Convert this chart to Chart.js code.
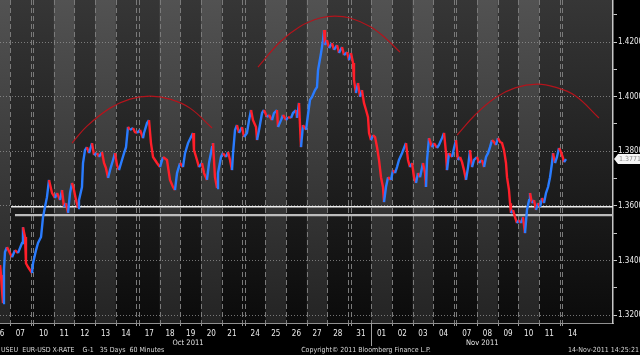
<!DOCTYPE html>
<html><head><meta charset="utf-8">
<script src="https://cdn.jsdelivr.net/npm/chart.js@4.4.0/dist/chart.umd.min.js"></script>
<style>html,body{margin:0;padding:0;background:#000;}canvas{display:block}</style>
</head><body>
<canvas id="c" width="640" height="355"></canvas>
<script>
// ---- data (x = trading hours since 07 Oct 2011 00:00, y = EUR-USD) ----
const hours = [
 -11.5,-10.4,-9.3,-8.1,-7.0,-5.8,-3.5,2.4,5.8,9.3,
 14.0,15.1,17.5,18.6,21.0,25.6,26.8,30.3,32.6,36.1,
 38.4,40.7,43.0,45.4,48.9,52.3,54.7,58.2,60.5,62.8,
 65.1,67.5,69.8,72.1,74.4,76.8,79.1,80.2,83.7,84.9,
 87.2,89.5,91.9,95.4,97.7,101.2,103.5,107.0,109.3,111.6,
 114.0,116.3,119.8,122.1,124.4,126.7,130.2,132.6,134.9,137.2,
 139.5,143.0,145.3,147.7,151.2,154.6,155.8,159.3,161.6,163.9,
 166.3,170.9,174.4,177.9,182.5,186.0,189.5,191.8,194.2,197.7,
 201.1,203.5,207.0,210.4,212.8,213.9,217.4,219.7,223.2,225.6,
 229.0,231.4,234.9,236.0,238.3,240.7,241.8,245.3,247.6,251.1,
 253.5,255.8,258.1,259.3,261.6,263.9,266.2,269.7,272.1,275.5,
 277.9,280.2,282.5,286.0,287.2,289.5,293.0,295.3,298.8,301.1,
 304.6,306.9,310.4,311.6,315.1,317.4,320.9,323.2,326.7,329.0,
 332.5,333.7,336.0,338.3,340.6,344.2,346.4,348.8,351.1,354.6,
 356.9,358.1,361.6,363.9,365.1,366.2,368.5,370.9,374.3,376.7,
 380.2,382.5,386.0,388.3,391.8,394.1,396.4,398.8,399.9,402.2,
 404.6,406.9,409.2,411.5,413.9,416.2,417.4,419.7,422.0,424.4,
 426.7,429.0,431.3,433.6,434.8,437.1,439.5,442.9,445.3,447.6,
 449.9,452.2,455.7,458.1,460.4,462.7,465.0,467.4,469.7,472.0,
 474.3,476.7,480.1,482.5,483.6,484.8,487.1,490.6,492.9,496.4,
 498.7,502.2,504.6,506.9,508.0,510.4,513.9,516.2,518.5,520.8,
 523.2,525.5,527.8,530.1,532.5,534.8,537.1,539.4,542.9,545.2,
 548.7,551.1,553.4,555.7,558.0,560.3,562.7,565.0,567.3,569.7,
 572.0,574.3,576.6,577.8,580.1,581.3,582.4,584.8,587.1,589.4,
 591.7,594.1,596.4,598.7,601.0,603.4,604.5,606.9,609.2,611.5,
 613.8,616.2,618.5,620.8,623.1,625.5,627.8,630.1,631.3,633.6,
 635.9,638.2,640.6,642.9,644.1,646.4
];
const closes = [
 1.3383,1.3347,1.3292,1.3244,1.3365,1.3431,1.3449,1.3412,1.3438,1.3427,
 1.3464,1.3522,1.3486,1.3390,1.3376,1.3354,1.3390,1.3438,1.3464,1.3486,
 1.3559,1.3596,1.3632,1.3695,1.3647,1.3629,1.3647,1.3621,1.3658,1.3596,
 1.3610,1.3574,1.3647,1.3684,1.3658,1.3621,1.3592,1.3621,1.3669,1.3757,
 1.3804,1.3815,1.3793,1.3830,1.3786,1.3793,1.3779,1.3797,1.3757,1.3738,
 1.3702,1.3731,1.3768,1.3793,1.3749,1.3731,1.3768,1.3793,1.3815,1.3889,
 1.3878,1.3885,1.3870,1.3867,1.3878,1.3848,1.3867,1.3903,1.3914,1.3830,
 1.3779,1.3757,1.3742,1.3779,1.3768,1.3695,1.3669,1.3658,1.3720,1.3757,
 1.3742,1.3793,1.3830,1.3852,1.3867,1.3804,1.3768,1.3742,1.3757,1.3720,
 1.3695,1.3757,1.3815,1.3830,1.3705,1.3665,1.3720,1.3779,1.3793,1.3779,
 1.3797,1.3768,1.3731,1.3793,1.3878,1.3896,1.3867,1.3889,1.3852,1.3867,
 1.3914,1.3951,1.3914,1.3889,1.3841,1.3878,1.3940,1.3951,1.3925,1.3933,
 1.3914,1.3940,1.3951,1.3889,1.3914,1.3933,1.3914,1.3925,1.3922,1.3940,
 1.3951,1.3922,1.3977,1.3815,1.3896,1.3878,1.3933,1.3988,1.3999,1.4024,
 1.4035,1.4097,1.4160,1.4207,1.4244,1.4189,1.4207,1.4178,1.4196,1.4171,
 1.4189,1.4160,1.4182,1.4152,1.4163,1.4134,1.4160,1.4123,1.4061,1.4013,
 1.4050,1.3999,1.4024,1.3977,1.3951,1.3925,1.3867,1.3841,1.3859,1.3852,
 1.3815,1.3768,1.3705,1.3669,1.3614,1.3669,1.3705,1.3695,1.3731,1.3720,
 1.3742,1.3768,1.3793,1.3812,1.3830,1.3768,1.3742,1.3757,1.3705,1.3684,
 1.3720,1.3705,1.3757,1.3720,1.3669,1.3768,1.3848,1.3815,1.3830,1.3812,
 1.3823,1.3848,1.3867,1.3793,1.3731,1.3793,1.3779,1.3812,1.3841,1.3768,
 1.3779,1.3760,1.3731,1.3695,1.3742,1.3804,1.3742,1.3768,1.3779,1.3757,
 1.3768,1.3742,1.3779,1.3793,1.3815,1.3841,1.3834,1.3823,1.3848,1.3834,
 1.3830,1.3804,1.3757,1.3705,1.3658,1.3610,1.3574,1.3585,1.3559,1.3537,
 1.3548,1.3537,1.3559,1.3500,1.3585,1.3621,1.3647,1.3610,1.3621,1.3585,
 1.3610,1.3596,1.3629,1.3610,1.3647,1.3669,1.3705,1.3757,1.3793,1.3757,
 1.3779,1.3812,1.3797,1.3775,1.3760,1.3771
];
const lastPrice = 1.3771;

// trading days
const dayLabels = ['06','07','10','11','12','13','14','17','18','19','20','21','24','25','26','27','28','31','01','02','03','04','07','08','09','10','11','14'];
const dayStarts = [-24,0,27,51,75,99,123,150,174,198,222,246,273,297,321,345,369,396,420,444,468,492,519,543,567,591,615,642];
const dayShaded = [1,0,0,1,0,1,0,0,1,0,1,0,0,1,0,1,0,0,1,0,1,0,0,1,0,1,0,0];
const monthLabels = ['Oct 2011','Nov 2011'];
const monthStartHour = 420; // 01 Nov

// y-axis tick values (major labelled, minor unlabelled)
const yTickValues = [1.32,1.33,1.34,1.35,1.36,1.37,1.38,1.39,1.40,1.41,1.42,1.43];
const yMajor = [1.32,1.34,1.36,1.38,1.40,1.42];

// drawn annotations: head & shoulders arcs, support lines
const arcLeftH  = [72.1,89.5,116.3,139.5,162.8,186.0,209.3,234.9];
const arcLeftP  = [1.3830,1.3892,1.3958,1.3991,1.4002,1.3991,1.3958,1.3885];
const arcHeadH  = [288.3,313.9,337.2,360.4,377.8,395.3,418.5,436.0,453.4];
const arcHeadP  = [1.4108,1.4200,1.4257,1.4288,1.4295,1.4288,1.4257,1.4216,1.4163];
const arcRightH = [519.7,540.6,563.8,587.1,612.7,633.6,656.8,684.7];
const arcRightP = [1.3859,1.3933,1.3995,1.4032,1.4046,1.4035,1.4004,1.3922];
const support1H = [1.2,701];  const support1P = [1.3597,1.3597];
const support2H = [5.8,701];  const support2P = [1.3566,1.3566];

const footerLeft = 'USEU  EUR-USD X-RATE    G-1   35 Days  60 Minutes';
const footerMid = 'Copyright\u00A9 2011 Bloomberg Finance L.P.';
const footerRight = '14-Nov-2011 14:25:21';

// ---- build ----
const zip = (xs, ys) => xs.map((x, i) => ({x, y: ys[i]}));
const FONT = "'Liberation Sans Narrow','DejaVu Sans Condensed','Liberation Sans',sans-serif";
const BLUE = '#2a7cff', RED = '#ff1f2a';

const bgPlugin = {
  id: 'bbg',
  beforeDraw(chart) {
    const {ctx, chartArea: a, scales: {x}} = chart;
    ctx.save();
    ctx.fillStyle = '#000';
    ctx.fillRect(0, 0, chart.width, chart.height);
    const gd = ctx.createLinearGradient(0, a.top, 0, a.bottom);
    gd.addColorStop(0, '#363636'); gd.addColorStop(1, '#0b0b0b');
    ctx.fillStyle = gd;
    ctx.fillRect(a.left, a.top, a.right - a.left, a.bottom - a.top);
    const gl = ctx.createLinearGradient(0, a.top, 0, a.bottom);
    gl.addColorStop(0, '#525252'); gl.addColorStop(1, '#242424');
    ctx.fillStyle = gl;
    dayStarts.forEach((s, i) => {
      if (!dayShaded[i]) return;
      const x0 = Math.max(a.left, x.getPixelForValue(s));
      const x1 = Math.min(a.right, x.getPixelForValue(s + 24));
      if (x1 > x0) ctx.fillRect(x0, a.top, x1 - x0, a.bottom - a.top);
    });
    // day boundary dashed lines
    const lastH = hours[hours.length - 1];
    const bounds = new Set();
    dayStarts.forEach(s => { bounds.add(s); if (s + 24 <= lastH) bounds.add(s + 24); });
    ctx.strokeStyle = '#7a7a7a';
    ctx.lineWidth = 1;
    ctx.setLineDash([5, 3]);
    bounds.forEach(v => {
      const px = Math.round(x.getPixelForValue(v)) + 0.5;
      if (px < a.left || px > a.right) return;
      ctx.beginPath(); ctx.moveTo(px, a.top); ctx.lineTo(px, a.bottom); ctx.stroke();
    });
    ctx.setLineDash([]);
    ctx.strokeStyle = '#9a9a9a';
    bounds.forEach(v => {
      const px = Math.round(x.getPixelForValue(v)) + 0.5;
      if (px < a.left || px > a.right) return;
      ctx.beginPath(); ctx.moveTo(px, a.bottom); ctx.lineTo(px, a.bottom + 3); ctx.stroke();
    });
    ctx.restore();
  },
  afterDraw(chart) {
    const {ctx, chartArea: a, scales: {x, y}} = chart;
    ctx.save();
    // month separator and labels
    const sep = Math.round(x.getPixelForValue(monthStartHour)) + 0.5;
    ctx.strokeStyle = '#a0a0a0'; ctx.lineWidth = 1;
    ctx.beginPath(); ctx.moveTo(sep, a.bottom); ctx.lineTo(sep, a.bottom + 23); ctx.stroke();
    ctx.fillStyle = '#e6e6e6';
    ctx.font = '7.5px ' + FONT;
    ctx.textAlign = 'center'; ctx.textBaseline = 'middle';
    ctx.fillText(monthLabels[0], x.getPixelForValue(207), 343);
    ctx.fillText(monthLabels[1], x.getPixelForValue(549), 343);
    // footer
    ctx.font = '7px ' + FONT;
    ctx.fillStyle = '#d8d8d8';
    ctx.textAlign = 'left';
    ctx.fillText(footerLeft, 1, 350);
    ctx.textAlign = 'center';
    ctx.fillText(footerMid, 366, 350);
    ctx.textAlign = 'right';
    ctx.fillText(footerRight, 639, 350);
    // last price tag
    const ly = Math.round(y.getPixelForValue(lastPrice));
    ctx.fillStyle = '#f4f4f4';
    ctx.beginPath();
    ctx.moveTo(a.right + 1, ly);
    ctx.lineTo(a.right + 5, ly - 5);
    ctx.lineTo(640, ly - 5);
    ctx.lineTo(640, ly + 5);
    ctx.lineTo(a.right + 5, ly + 5);
    ctx.closePath(); ctx.fill();
    ctx.fillStyle = '#8a8a8a';
    ctx.font = '7px ' + FONT;
    ctx.textAlign = 'left';
    ctx.fillText(lastPrice.toFixed(4), a.right + 6, ly + 0.5);
    ctx.restore();
  }
};

const lineDs = (label, xs, ys, color, width, order, tension) => ({
  label, data: zip(xs, ys), borderColor: color, borderWidth: width,
  pointRadius: 0, tension: tension || 0, order, fill: false
});

new Chart(document.getElementById('c'), {
  type: 'line',
  data: {
    datasets: [
      {
        label: 'EUR-USD', data: zip(hours, closes), borderWidth: 2.4, pointRadius: 0,
        borderColor: BLUE, order: 0, fill: false, tension: 0,
        segment: { borderColor: c => c.p1.parsed.y >= c.p0.parsed.y ? BLUE : RED }
      },
      lineDs('arcL', arcLeftH, arcLeftP, '#b3141c', 1.2, 1, 0.4),
      lineDs('arcH', arcHeadH, arcHeadP, '#b3141c', 1.2, 1, 0.4),
      lineDs('arcR', arcRightH, arcRightP, '#b3141c', 1.2, 1, 0.4),
      lineDs('s1', support1H, support1P, '#ececec', 1.6, 2),
      lineDs('s2', support2H, support2P, '#bdbdbd', 2.4, 2)
    ]
  },
  options: {
    responsive: false, animation: false, devicePixelRatio: 1,
    layout: { padding: 0 },
    plugins: { legend: { display: false }, tooltip: { enabled: false } },
    scales: {
      x: {
        type: 'linear', min: -11.6, max: 701,
        grid: { display: false, drawTicks: false },
        border: { display: true, color: '#909090', width: 1 },
        afterBuildTicks: s => { s.ticks = dayStarts.map(v => ({ value: v + 12 })); },
        afterFit: s => { s.height = 32; s.paddingLeft = 0; s.paddingRight = 0; },
        ticks: {
          autoSkip: false, maxRotation: 0, minRotation: 0, padding: 6,
          color: '#ececec', font: { size: 8, family: FONT },
          callback: (v, i) => dayLabels[i]
        }
      },
      y: {
        position: 'right', min: 1.3171, max: 1.4354,
        afterBuildTicks: s => { s.ticks = yTickValues.map(v => ({ value: v })); },
        afterFit: s => { s.width = 27; s.paddingTop = 0; s.paddingBottom = 0; },
        grid: {
          color: c => yMajor.some(m => Math.abs(m - c.tick.value) < 1e-6) ? 'rgba(150,150,150,0.75)' : 'rgba(0,0,0,0)',
          tickColor: '#c8c8c8', tickLength: 4, lineWidth: 1
        },
        border: { display: true, color: '#c8c8c8', width: 1.5, dash: [1, 2] },
        ticks: {
          padding: 1, color: '#ececec', font: { size: 8, family: FONT },
          callback: v => yMajor.some(m => Math.abs(m - v) < 1e-6) ? v.toFixed(4) : ''
        }
      }
    }
  },
  plugins: [bgPlugin]
});
</script>
</body></html>
